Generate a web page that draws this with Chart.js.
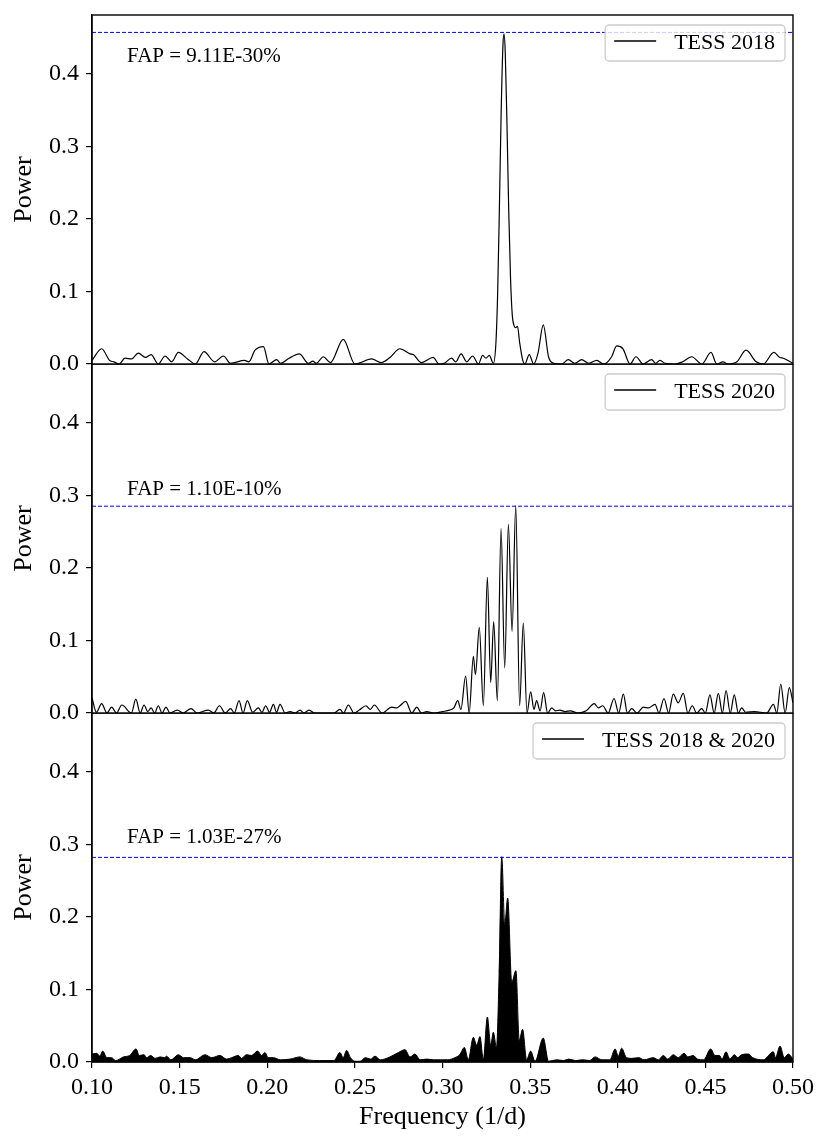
<!DOCTYPE html>
<html>
<head>
<meta charset="utf-8">
<script src="https://cdn.jsdelivr.net/npm/chart.js@4.4.1/dist/chart.umd.min.js"></script>
<style>
body { margin: 0; background: #fff; }
#wrap { position: relative; width: 831px; height: 1147px; }
canvas { position: absolute; left: 0; }
</style>
</head>
<body>
<div id="wrap">
    <canvas id="p1" width="831" height="381" style="top:0px"></canvas>
    <canvas id="p2" width="831" height="366" style="top:364px"></canvas>
    <canvas id="p3" width="831" height="434" style="top:713px"></canvas>
</div>
<script>
// TESS 2018 periodogram
const freq2018 = [0.100,0.1055,0.110,0.1125,0.1155,0.1188,0.1225,0.1264,0.1305,0.1337,0.1378,0.1417,0.1455,0.1493,0.1545,0.1590,0.1639,0.1700,0.1750,0.1790,0.1870,0.1895,0.1930,0.1978,0.2010,0.2054,0.2075,0.2125,0.2183,0.2235,0.2260,0.2280,0.2320,0.2360,0.2434,0.2500,0.2596,0.2650,0.2700,0.2757,0.2815,0.2833,0.2880,0.2947,0.2980,0.3010,0.3052,0.3076,0.3106,0.3138,0.3172,0.3205,0.3229,0.3248,0.3267,0.3290,0.3305,0.3315,0.3325,0.3335,0.3345,0.3351,0.3358,0.3368,0.3378,0.3388,0.3398,0.3408,0.3418,0.3428,0.3440,0.3458,0.3470,0.3495,0.3520,0.3545,0.3575,0.3605,0.3635,0.3680,0.3718,0.3755,0.3794,0.3835,0.3880,0.3920,0.3965,0.3994,0.4030,0.4070,0.4104,0.4145,0.4194,0.4215,0.4241,0.4270,0.4330,0.4370,0.4422,0.4480,0.4532,0.4565,0.4600,0.4630,0.4680,0.4732,0.4790,0.4830,0.4891,0.4925,0.4945,0.5000];
const power2018 = [0.005,0.021,0.005,0.003,0.000,0.008,0.007,0.015,0.009,0.013,0.000,0.011,0.003,0.016,0.007,0.000,0.017,0.003,0.011,0.001,0.005,0.003,0.019,0.024,0.000,0.006,0.001,0.008,0.014,0.001,0.004,0.001,0.010,0.002,0.034,0.000,0.007,0.002,0.009,0.021,0.014,0.013,0.002,0.009,0.000,0.001,0.008,0.003,0.014,0.003,0.011,0.000,0.012,0.008,0.012,0.001,0.030,0.100,0.220,0.350,0.440,0.455,0.430,0.330,0.210,0.120,0.068,0.053,0.050,0.052,0.030,0.005,0.000,0.013,0.000,0.015,0.054,0.010,0.001,0.000,0.006,0.001,0.006,0.001,0.005,0.000,0.010,0.025,0.021,0.000,0.010,0.000,0.006,0.001,0.005,0.001,0.000,0.003,0.010,0.000,0.016,0.000,0.003,0.000,0.003,0.019,0.003,0.000,0.016,0.009,0.008,0.001];

// TESS 2020 periodogram
const freq2020 = [0.1000,0.1025,0.1055,0.1085,0.1112,0.1140,0.1170,0.1225,0.1250,0.1275,0.1297,0.1318,0.1337,0.1358,0.1378,0.1400,0.1422,0.1445,0.1487,0.1520,0.1565,0.1600,0.1664,0.1695,0.1727,0.1760,0.1791,0.1812,0.1839,0.1862,0.1886,0.1917,0.1949,0.1970,0.1991,0.2013,0.2035,0.2053,0.2073,0.2102,0.2130,0.2160,0.2187,0.2210,0.2238,0.2270,0.2380,0.2415,0.2435,0.2463,0.2495,0.2525,0.2563,0.2588,0.2611,0.2655,0.2710,0.2740,0.2757,0.2790,0.2825,0.2853,0.2880,0.2910,0.2950,0.3000,0.3040,0.3065,0.3087,0.3105,0.3132,0.3152,0.3176,0.3188,0.3210,0.3233,0.3256,0.3275,0.3292,0.3313,0.3334,0.3355,0.3376,0.3397,0.3418,0.3440,0.3461,0.3482,0.3503,0.3522,0.3537,0.3557,0.3577,0.3600,0.3623,0.3645,0.3670,0.3700,0.3730,0.3770,0.3820,0.3866,0.3890,0.3914,0.3945,0.3979,0.4005,0.4032,0.4055,0.4080,0.4110,0.4146,0.4175,0.4213,0.4235,0.4264,0.4290,0.4317,0.4345,0.4374,0.4400,0.4425,0.4450,0.4479,0.4500,0.4526,0.4550,0.4574,0.4597,0.4618,0.4642,0.4665,0.4688,0.4707,0.4730,0.4780,0.4850,0.4888,0.4908,0.4930,0.4955,0.4979,0.5000];
const power2020 = [0.021,0.001,0.013,0.000,0.008,0.000,0.011,0.000,0.019,0.000,0.011,0.002,0.007,0.000,0.010,0.000,0.008,0.000,0.004,0.000,0.006,0.000,0.004,0.000,0.010,0.000,0.006,0.000,0.017,0.000,0.017,0.001,0.007,0.001,0.010,0.001,0.012,0.001,0.012,0.000,0.002,0.000,0.004,0.000,0.004,0.000,0.000,0.005,0.000,0.011,0.000,0.004,0.010,0.005,0.011,0.000,0.008,0.007,0.010,0.016,0.000,0.008,0.000,0.002,0.000,0.002,0.004,0.007,0.017,0.005,0.051,0.000,0.078,0.053,0.118,0.010,0.187,0.042,0.126,0.017,0.254,0.062,0.260,0.112,0.286,0.010,0.124,0.000,0.029,0.005,0.017,0.003,0.028,0.000,0.007,0.003,0.004,0.002,0.003,0.000,0.003,0.013,0.007,0.010,0.000,0.020,0.000,0.026,0.000,0.006,0.000,0.008,0.007,0.012,0.000,0.020,0.000,0.026,0.014,0.027,0.000,0.010,0.000,0.006,0.000,0.025,0.000,0.027,0.000,0.031,0.000,0.025,0.000,0.007,0.001,0.002,0.000,0.012,0.000,0.040,0.000,0.035,0.014];

// TESS 2018 & 2020 combined (upper envelope of the dense curve)
const freqBoth = [0.1000,0.1027,0.1045,0.1061,0.1085,0.1112,0.1135,0.1179,0.1215,0.1251,0.1270,0.1297,0.1312,0.1335,0.1360,0.1388,0.1415,0.1425,0.1450,0.1493,0.1522,0.1560,0.1590,0.1645,0.1683,0.1730,0.1768,0.1797,0.1835,0.1854,0.1880,0.1910,0.1945,0.1968,0.1987,0.2005,0.2035,0.2075,0.2130,0.2187,0.2225,0.2300,0.2380,0.2415,0.2433,0.2453,0.2475,0.2500,0.2530,0.2560,0.2590,0.2615,0.2645,0.2700,0.2748,0.2786,0.2815,0.2843,0.2872,0.2910,0.2950,0.2990,0.3030,0.3071,0.3098,0.3125,0.3147,0.3176,0.3195,0.3214,0.3233,0.3256,0.3275,0.3290,0.3308,0.3323,0.3338,0.3355,0.3372,0.3395,0.3419,0.3438,0.3457,0.3480,0.3503,0.3528,0.3575,0.3605,0.3650,0.3690,0.3720,0.3760,0.3800,0.3840,0.3870,0.3910,0.3955,0.3985,0.4003,0.4022,0.4050,0.4080,0.4120,0.4150,0.4203,0.4232,0.4260,0.4285,0.4317,0.4345,0.4378,0.4400,0.4430,0.4455,0.4490,0.4530,0.4555,0.4580,0.4595,0.4618,0.4640,0.4665,0.4685,0.4705,0.4745,0.4770,0.4830,0.4888,0.4900,0.4926,0.4950,0.4973,0.5000];
const powerBoth = [0.011,0.012,0.008,0.015,0.006,0.006,0.002,0.007,0.009,0.018,0.009,0.010,0.006,0.009,0.005,0.007,0.006,0.008,0.003,0.010,0.006,0.006,0.003,0.010,0.006,0.009,0.004,0.006,0.009,0.005,0.010,0.009,0.015,0.009,0.013,0.006,0.006,0.003,0.004,0.007,0.003,0.002,0.002,0.013,0.006,0.016,0.006,0.001,0.001,0.006,0.004,0.008,0.003,0.007,0.013,0.017,0.007,0.011,0.003,0.004,0.003,0.003,0.003,0.006,0.010,0.020,0.003,0.034,0.023,0.035,0.003,0.062,0.023,0.041,0.020,0.121,0.283,0.190,0.226,0.110,0.126,0.030,0.045,0.003,0.015,0.001,0.033,0.001,0.003,0.002,0.004,0.002,0.003,0.002,0.007,0.003,0.003,0.018,0.008,0.019,0.006,0.005,0.006,0.003,0.006,0.003,0.009,0.004,0.010,0.006,0.012,0.007,0.009,0.004,0.003,0.018,0.009,0.009,0.004,0.014,0.004,0.010,0.006,0.010,0.011,0.006,0.003,0.014,0.006,0.022,0.006,0.011,0.004];

// false alarm levels and labels
const fapLevels = [0.457, 0.285, 0.282];
const fapLabels = ['FAP = 9.11E-30%', 'FAP = 1.10E-10%', 'FAP = 1.03E-27%'];
const seriesNames = ['TESS 2018', 'TESS 2020', 'TESS 2018 & 2020'];

const yTicks = [0.0, 0.1, 0.2, 0.3, 0.4];
const xTicks = [0.10, 0.15, 0.20, 0.25, 0.30, 0.35, 0.40, 0.45, 0.50];

const SERIF = '"Liberation Serif", "Times New Roman", serif';

function toPoints(xs, ys) {
    return xs.map((x, i) => ({ x: x, y: ys[i] }));
}

// frame, legend box and FAP text for each panel
const panelDecor = {
    id: 'panelDecor',
    afterDraw(chart, args, opts) {
        const ctx = chart.ctx;
        const a = chart.chartArea;
        ctx.save();
        ctx.strokeStyle = '#000';
        ctx.lineWidth = 1.4;
        ctx.strokeRect(a.left, a.top, a.right - a.left, a.bottom - a.top);

        // FAP text
        ctx.fillStyle = '#000';
        ctx.font = '21px ' + SERIF;
        ctx.textBaseline = 'alphabetic';
        ctx.textAlign = 'left';
        ctx.fillText(opts.fapText, chart.scales.x.getPixelForValue(0.12), chart.scales.y.getPixelForValue(opts.fapTextY));

        // legend
        ctx.font = '22px ' + SERIF;
        const tw = ctx.measureText(opts.legend).width;
        const bw = 69 + tw + 10, bh = 36;
        const bx = a.right - 8 - bw, by = a.top + 10;
        ctx.beginPath();
        ctx.roundRect(bx, by, bw, bh, 4);
        ctx.fillStyle = 'rgba(255,255,255,0.8)';
        ctx.fill();
        ctx.strokeStyle = '#cccccc';
        ctx.lineWidth = 1.3;
        ctx.stroke();
        ctx.beginPath();
        ctx.strokeStyle = '#000';
        ctx.lineWidth = 1.3;
        ctx.moveTo(bx + 9, by + 16);
        ctx.lineTo(bx + 51, by + 16);
        ctx.stroke();
        ctx.fillStyle = '#000';
        ctx.textBaseline = 'middle';
        ctx.fillText(opts.legend, bx + 69, by + 18);
        ctx.restore();
    }
};

function makePanel(id, idx, freq, power, filled, showX, padTop, padBottom) {
    const datasets = [{
        data: toPoints(freq, power),
        borderColor: '#000',
        backgroundColor: filled ? '#000' : 'transparent',
        fill: filled ? 'origin' : false,
        borderWidth: filled ? 1 : 1.2,
        pointRadius: 0,
        cubicInterpolationMode: 'monotone',
        order: 1
    }, {
        data: [{ x: 0.10, y: fapLevels[idx] }, { x: 0.50, y: fapLevels[idx] }],
        borderColor: '#0000ff',
        backgroundColor: '#0000ff',
        borderWidth: 1,
        borderDash: [4, 2],
        pointRadius: 0,
        fill: false,
        order: 0
    }];

    new Chart(document.getElementById(id), {
        type: 'line',
        data: { datasets: datasets },
        plugins: [panelDecor],
        options: {
            responsive: false,
            animation: false,
            devicePixelRatio: 1,
            layout: { padding: { top: padTop, right: 38, bottom: padBottom, left: 0 } },
            plugins: {
                legend: { display: false },
                tooltip: { enabled: false },
                panelDecor: {
                    fapText: fapLabels[idx],
                    fapTextY: [0.4166, 0.300, 0.302][idx],
                    legend: seriesNames[idx]
                }
            },
            scales: {
                x: {
                    type: 'linear',
                    display: showX,
                    min: 0.10,
                    max: 0.50,
                    afterBuildTicks: (scale) => { scale.ticks = xTicks.map(v => ({ value: v })); },
                    afterFit: (scale) => {
                        if (showX) scale.height = 85;
                        scale.paddingLeft = 0;
                        scale.paddingRight = 0;
                    },
                    ticks: {
                        color: '#000',
                        font: { family: SERIF, size: 24 },
                        padding: 5,
                        maxRotation: 0,
                        callback: (v) => v.toFixed(2)
                    },
                    grid: { drawOnChartArea: false, drawTicks: true, tickLength: 6, color: '#000', lineWidth: 1.2 },
                    border: { display: true, color: '#000', width: 1.4 },
                    title: {
                        display: true,
                        text: 'Frequency (1/d)',
                        color: '#000',
                        font: { family: SERIF, size: 26 },
                        padding: { top: 0, bottom: 14 }
                    }
                },
                y: {
                    min: 0,
                    max: 0.481,
                    afterBuildTicks: (scale) => { scale.ticks = yTicks.map(v => ({ value: v })); },
                    afterFit: (scale) => {
                        scale.width = 92;
                        scale.paddingTop = 0;
                        scale.paddingBottom = 0;
                    },
                    ticks: {
                        color: '#000',
                        font: { family: SERIF, size: 24 },
                        padding: 7,
                        callback: (v) => v.toFixed(1)
                    },
                    grid: { drawOnChartArea: false, drawTicks: true, tickLength: 6, color: '#000', lineWidth: 1.2 },
                    border: { display: true, color: '#000', width: 1.4 },
                    title: {
                        display: true,
                        text: 'Power',
                        color: '#000',
                        font: { family: SERIF, size: 26 },
                        padding: { top: 9, bottom: 0 }
                    }
                }
            }
        }
    });
}

makePanel('p1', 0, freq2018, power2018, false, false, 15, 17);
makePanel('p2', 1, freq2020, power2020, false, false, 0, 17);
makePanel('p3', 2, freqBoth, powerBoth, true, true, 0, 0);
</script>
</body>
</html>
